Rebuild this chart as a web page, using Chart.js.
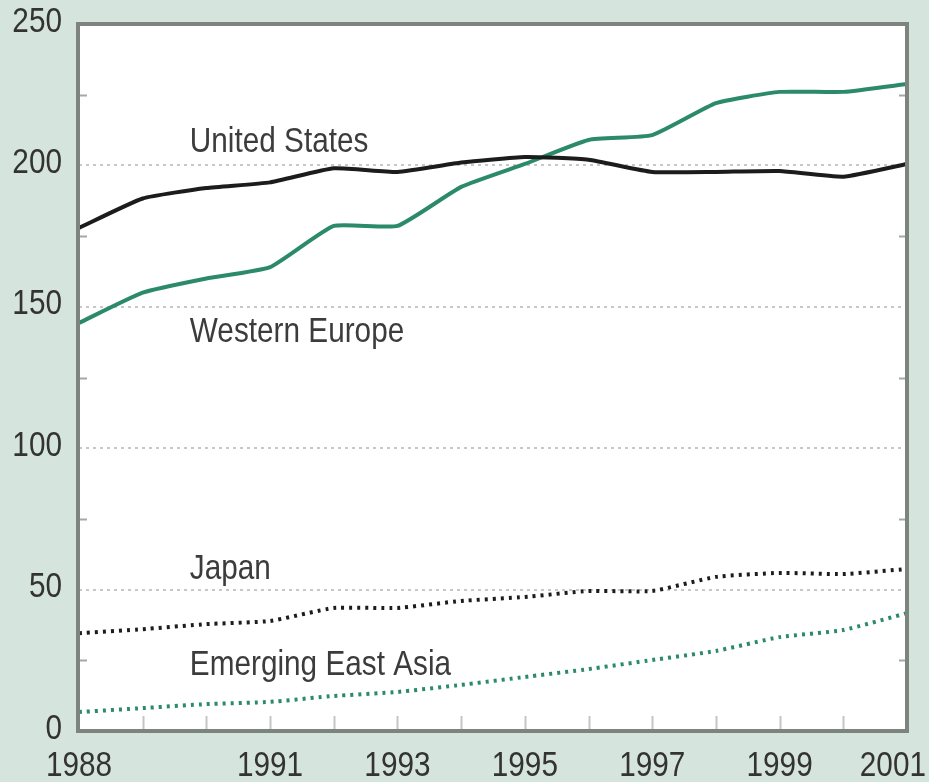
<!DOCTYPE html>
<html>
<head>
<meta charset="utf-8">
<script src="https://cdn.jsdelivr.net/npm/chart.js@4"></script>
<style>
  html, body { margin: 0; padding: 0; background: #d6e4de; }
  canvas { display: block; }
</style>
</head>
<body>
<canvas id="chart" width="929" height="782"></canvas>
<script>
const years = ['1988', '1989', '1990', '1991', '1992', '1993', '1994', '1995', '1996', '1997', '1998', '1999', '2000', '2001'];
const unitedStates = [177.9, 188.3, 192, 194, 199, 197.7, 201, 203, 202, 197.7, 197.7, 198, 196, 200.5];
const westernEurope = [144.3, 155, 160, 164, 178.6, 178.6, 192.4, 200.5, 209, 210.7, 222, 226, 226, 228.8];
const japan = [34.6, 36, 37.8, 38.9, 43.5, 43.5, 46, 47.4, 49.5, 49.5, 54.5, 55.9, 55.5, 57.3];
const eastAsia = [6.7, 8.1, 9.5, 10.3, 12.4, 13.8, 16.3, 19.1, 21.9, 25.1, 28.3, 33.2, 35.7, 41.7];
const xTickLabels = ['1988', '1991', '1993', '1995', '1997', '1999', '2001'];
const yTickLabels = [0, 50, 100, 150, 200, 250];

// series names written inside the plot, anchored in data units (year, value at baseline)
const seriesLabels = [
  { text: 'United States', year: 1989.74, value: 204.6 },
  { text: 'Western Europe', year: 1989.74, value: 137.5 },
  { text: 'Japan', year: 1989.74, value: 53.7 },
  { text: 'Emerging East Asia', year: 1989.74, value: 19.8 }
];

const FONT = '"Liberation Sans", Arial, sans-serif';
const GREEN = '#2b8a6a';
const BLACK = '#1c1c1c';
const NARROW = 0.85; // the original lettering is condensed

function yearPixel(xScale, year) {
  const i = Math.floor(year - 1988);
  const a = xScale.getPixelForValue(i);
  const b = xScale.getPixelForValue(i + 1);
  return a + (b - a) * (year - 1988 - i);
}

function narrowText(ctx, text, x, y) {
  ctx.save();
  ctx.translate(x, y);
  ctx.scale(NARROW, 1);
  ctx.fillText(text, 0, 0);
  ctx.restore();
}

const decorations = {
  id: 'decorations',
  beforeDraw(chart) {
    const { ctx, chartArea: a } = chart;
    ctx.save();
    ctx.fillStyle = '#ffffff';
    ctx.fillRect(a.left, a.top, a.right - a.left, a.bottom - a.top);
    ctx.restore();
  },
  beforeDatasetsDraw(chart) {
    const { ctx, chartArea: a, scales } = chart;
    ctx.save();
    // minor ticks on both sides
    ctx.strokeStyle = '#a3aaa6';
    ctx.lineWidth = 2;
    for (let v = 25; v < 250; v += 50) {
      const y = Math.round(scales.y.getPixelForValue(v)) + 0.5;
      ctx.beginPath();
      ctx.moveTo(a.left, y); ctx.lineTo(a.left + 8, y);
      ctx.moveTo(a.right, y); ctx.lineTo(a.right - 8, y);
      ctx.stroke();
    }
    // year ticks rising from the bottom
    ctx.strokeStyle = '#c3c6c4';
    for (let i = 1; i < years.length - 1; i++) {
      const x = Math.round(scales.x.getPixelForValue(i)) + 0.5;
      ctx.beginPath();
      ctx.moveTo(x, a.bottom); ctx.lineTo(x, a.bottom - 15);
      ctx.stroke();
    }
    ctx.restore();
  },
  afterDatasetsDraw(chart) {
    const { ctx, chartArea: a, scales, width } = chart;
    ctx.save();
    ctx.strokeStyle = '#7d837f';
    ctx.lineWidth = 4;
    ctx.strokeRect(a.left - 1, a.top, a.right - a.left + 1, a.bottom - a.top);

    ctx.font = '35px ' + FONT;
    ctx.fillStyle = '#333333';
    ctx.textBaseline = 'middle';

    ctx.textAlign = 'right';
    yTickLabels.forEach(v => {
      narrowText(ctx, String(v), a.left - 17, scales.y.getPixelForValue(v) - 2);
    });

    ctx.textAlign = 'center';
    xTickLabels.forEach(lbl => {
      let x = scales.x.getPixelForValue(years.indexOf(lbl));
      const w = ctx.measureText(lbl).width * NARROW;
      if (x + w / 2 > width - 3) x = width - 3 - w / 2;
      narrowText(ctx, lbl, x, a.bottom + 35);
    });

    ctx.fillStyle = '#3c3c3c';
    ctx.textAlign = 'left';
    ctx.textBaseline = 'alphabetic';
    seriesLabels.forEach(l => {
      narrowText(ctx, l.text, yearPixel(scales.x, l.year), scales.y.getPixelForValue(l.value));
    });
    ctx.restore();
  }
};

new Chart(document.getElementById('chart'), {
  type: 'line',
  data: {
    labels: years,
    datasets: [
      { data: unitedStates, borderColor: BLACK, borderWidth: 4, tension: 0.15 },
      { data: westernEurope, borderColor: GREEN, borderWidth: 4, tension: 0.15 },
      { data: japan, borderColor: BLACK, borderWidth: 4, borderDash: [3, 5], tension: 0.15 },
      { data: eastAsia, borderColor: GREEN, borderWidth: 4, borderDash: [3, 5], tension: 0.15 }
    ]
  },
  options: {
    responsive: false,
    animation: false,
    devicePixelRatio: 1,
    layout: { padding: { top: 24, right: 22, left: 0, bottom: 0 } },
    elements: { point: { radius: 0 } },
    plugins: { legend: { display: false }, tooltip: { enabled: false } },
    scales: {
      x: {
        type: 'category',
        offset: false,
        grid: { display: false },
        border: { display: false },
        ticks: { display: false },
        afterFit: s => { s.height = 51; }
      },
      y: {
        min: 0,
        max: 250,
        border: { display: false, dash: [3, 4] },
        grid: {
          drawTicks: false,
          lineWidth: 2,
          color: c => (c.tick && c.tick.value % 50 === 0 && c.tick.value > 0 && c.tick.value < 250) ? '#c8c8c8' : 'rgba(0,0,0,0)'
        },
        ticks: { display: false, stepSize: 25 },
        afterFit: s => { s.width = 79; }
      }
    }
  },
  plugins: [decorations]
});
</script>
</body>
</html>
